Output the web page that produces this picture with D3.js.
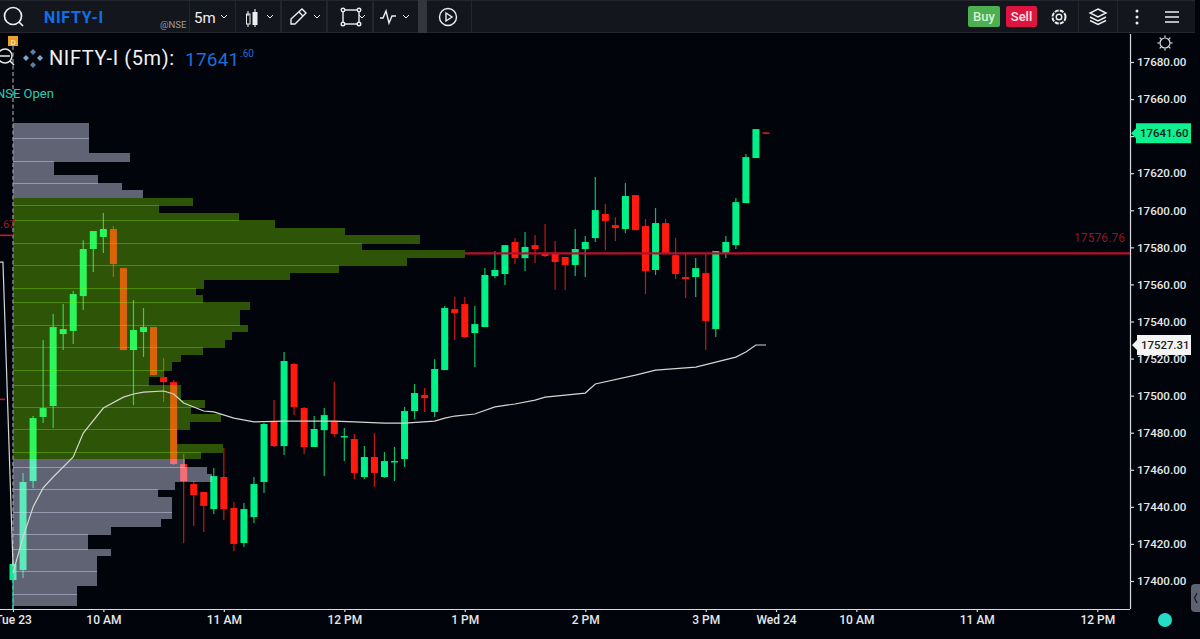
<!DOCTYPE html>
<html>
<head>
<meta charset="utf-8">
<title>NIFTY-I 5m</title>
<script src="https://cdn.jsdelivr.net/npm/d3@7"></script>
<style>
  html, body { margin: 0; padding: 0; background: #02040b; overflow: hidden; }
  text { font-family: Roboto, "Noto Sans", sans-serif; }
</style>
</head>
<body>
<svg id="chart" width="1200" height="639"></svg>
<script>
/****************************************************************
    Data
/****************************************************************/
const opens = [
  17400.5, 17405.9, 17453.9, 17488.5, 17494.4, 17533.2, 17534.9, 17553.7, 17579.1, 17585.6,
  17589.9, 17568.8, 17524.6, 17534.3, 17537.0, 17510.0, 17507.3, 17463.1, 17452.3, 17448.0,
  17438.8, 17456.1, 17439.4, 17420.5, 17434.5, 17453.4, 17485.8, 17472.8, 17517.1, 17493.3,
  17472.3, 17481.4, 17486.3, 17477.7, 17476.6, 17456.1, 17466.9, 17456.1, 17464.2, 17465.8,
  17491.7, 17500.3, 17491.2, 17513.8, 17546.7, 17549.4, 17533.8, 17537.0, 17564.5, 17565.6,
  17582.9, 17574.2, 17581.2, 17576.4, 17576.9, 17574.8, 17570.5, 17579.1, 17585.0, 17598.0,
  17592.0, 17589.9, 17608.2, 17591.5, 17567.8, 17593.1, 17575.8, 17564.0, 17564.0, 17566.1,
  17535.9, 17576.9, 17581.2, 17603.9, 17628.2, 17642.0
]
const highs = [
  17410.2, 17458.3, 17489.0, 17530.0, 17544.0, 17549.4, 17556.4, 17583.9, 17588.8, 17598.5,
  17591.5, 17568.8, 17551.6, 17547.3, 17537.0, 17520.3, 17508.4, 17468.5, 17453.9, 17448.0,
  17461.0, 17471.7, 17442.6, 17442.1, 17456.1, 17485.2, 17497.6, 17523.5, 17517.6, 17493.9,
  17489.0, 17493.3, 17507.3, 17482.5, 17479.3, 17472.8, 17479.8, 17469.6, 17472.3, 17493.9,
  17506.3, 17504.1, 17519.7, 17548.3, 17553.2, 17553.2, 17548.3, 17568.8, 17578.0, 17581.2,
  17585.0, 17588.3, 17586.6, 17592.6, 17583.4, 17574.8, 17589.9, 17586.1, 17617.9, 17603.4,
  17596.3, 17614.7, 17608.2, 17595.3, 17601.2, 17595.3, 17585.0, 17576.4, 17574.2, 17576.4,
  17578.0, 17586.1, 17606.6, 17630.3, 17643.8, 17642.0
]
const lows = [
  17400.0, 17401.6, 17450.2, 17485.2, 17482.5, 17524.6, 17527.8, 17546.2, 17566.7, 17576.9,
  17564.0, 17524.6, 17494.9, 17520.8, 17511.1, 17496.6, 17462.6, 17420.5, 17429.7, 17426.4,
  17436.1, 17432.9, 17416.2, 17418.3, 17431.3, 17447.5, 17472.3, 17468.0, 17489.5, 17468.5,
  17472.3, 17456.6, 17477.7, 17464.7, 17455.0, 17455.0, 17450.7, 17455.6, 17453.9, 17461.5,
  17487.4, 17491.2, 17488.5, 17513.8, 17530.0, 17531.1, 17515.4, 17537.0, 17563.4, 17559.7,
  17571.0, 17567.2, 17571.5, 17574.8, 17557.0, 17557.0, 17564.5, 17564.0, 17582.9, 17578.5,
  17583.4, 17587.7, 17589.3, 17554.8, 17565.1, 17576.4, 17562.9, 17552.7, 17553.2, 17524.6,
  17531.6, 17574.2, 17579.1, 17603.9, 17628.2, 17641.6
]
const closes = [
  17409.2, 17453.4, 17487.9, 17493.3, 17537.0, 17535.9, 17554.8, 17579.1, 17588.8, 17589.9,
  17571.0, 17524.6, 17535.4, 17537.0, 17511.1, 17507.3, 17463.1, 17453.9, 17446.4, 17440.5,
  17456.6, 17438.8, 17420.0, 17438.8, 17452.3, 17484.7, 17472.8, 17518.7, 17493.9, 17472.3,
  17482.0, 17489.5, 17479.3, 17478.2, 17458.3, 17466.9, 17458.3, 17464.7, 17464.7, 17491.7,
  17501.4, 17498.7, 17514.4, 17547.3, 17544.6, 17531.6, 17538.6, 17565.1, 17567.8, 17581.2,
  17574.2, 17580.2, 17579.1, 17575.3, 17572.1, 17570.5, 17579.1, 17582.9, 17600.1, 17594.2,
  17590.4, 17607.7, 17589.3, 17567.2, 17593.1, 17576.4, 17565.6, 17562.9, 17568.8, 17540.2,
  17578.0, 17582.9, 17604.4, 17628.7, 17643.8, 17641.6
]

// session vwap, bar index and price
const vwapBars = [0, 1, 2, 3, 4, 6, 7, 9, 11, 12, 13, 15, 16, 17, 19, 20, 22, 24, 27, 32, 34, 37, 39, 42, 43, 44, 46, 48, 50, 52, 53, 57, 58, 62, 64, 68, 72, 73, 74, 75]
const vwapPrices = [
  17404.3, 17423.7, 17439.9, 17450.2, 17456.1, 17466.9, 17479.8, 17493.3, 17499.2, 17500.9,
  17501.9, 17502.5, 17500.9, 17496.0, 17491.7, 17491.2, 17487.9, 17485.8, 17486.3, 17486.3,
  17485.8, 17485.2, 17485.2, 17486.3, 17487.9, 17489.0, 17490.1, 17493.9, 17495.5, 17497.6,
  17499.2, 17501.4, 17506.3, 17511.1, 17513.8, 17515.4, 17520.8, 17523.5, 17527.31, 17527.31
]
// tail of the previous session's vwap
const prevVwapBars = [-1.4, -1, 0]
const prevVwapPrices = [17572, 17572, 17408]

// volume profile rows, top row first
const profileVolumes = [
  76, 76, 76, 76, 117, 41, 41, 85, 109, 130,
  180, 146, 226, 262, 332, 407, 349, 452, 394, 326,
  277, 191, 183, 190, 237, 227, 227, 235, 219, 212,
  190, 168, 159, 150, 136, 168, 168, 192, 178, 208,
  177, 164, 164, 210, 188, 172, 194, 199, 162, 145,
  159, 159, 159, 148, 98, 75, 75, 98, 84, 84,
  84, 84, 64, 64, 64
]
const profileTopPrice = 17647
const profileRowPrice = 4.03
const valueAreaFirst = 10
const valueAreaLast = 44

const priceTicks = [17400, 17420, 17440, 17460, 17480, 17500, 17520, 17540, 17560, 17580, 17600, 17620, 17640, 17660, 17680]
const timeTickBars = [0, 9, 21, 33, 45, 57, 69, 76, 84, 96, 108]
const timeTickLabels = ['Tue 23', '10 AM', '11 AM', '12 PM', '1 PM', '2 PM', '3 PM', 'Wed 24', '10 AM', '11 AM', '12 PM']

const levelPrice = 17576.76
const prevLevels = [17586.5, 17498]
const lastPrice = 17641.60
const lastVwap = 17527.31

/****************************************************************
    Constant settings
/****************************************************************/
const settings = {
  bg: '#02040b',
  toolbar: '#14161d',
  up: '#00f088',
  down: '#ff1a0d',
  axisColor: '#d8dade',
  textColor: '#e6e8ea',
  bodyWidth: 7,
  plotRight: 1130,
  plotBottom: 609,
  toolbarHeight: 33
}

const svg = d3.select('#chart')
const x = d3.scaleLinear().domain([0, 111]).range([13, 1127.4])
const y = d3.scaleLinear().domain([17400, 17680]).range([581, 62])
const volumeX = d3.scaleLinear().domain([0, 452]).range([13, 465])

svg.append('rect').attr('width', 1200).attr('height', 639).attr('fill', settings.bg)

/****************************************************************
    Candles. The profile goes on top of them and tints them
/****************************************************************/
const bars = d3.range(opens.length)
const barColor = i => (closes[i] >= opens[i] ? settings.up : settings.down)
const candles = svg.append('g').selectAll('g').data(bars).join('g')

candles.append('line')
  .attr('x1', i => x(i)).attr('x2', i => x(i))
  .attr('y1', i => y(highs[i])).attr('y2', i => y(lows[i]))
  .attr('stroke', barColor)
  .attr('stroke-width', 1.2)
  .attr('stroke-opacity', 0.8)

candles.append('rect')
  .attr('x', i => x(i) - settings.bodyWidth / 2)
  .attr('width', settings.bodyWidth)
  .attr('y', i => y(Math.max(opens[i], closes[i])))
  .attr('height', i => Math.max(1.4, Math.abs(y(opens[i]) - y(closes[i]))))
  .attr('fill', barColor)

/****************************************************************
    Volume profile
/****************************************************************/
const rowTop = k => Math.round(y(profileTopPrice - k * profileRowPrice))
const inValueArea = k => k >= valueAreaFirst && k <= valueAreaLast
// the picture shows a lighter seam every 3,3,3,2 rows
const hasSeam = k => [0, 3, 6, 9].includes(((k - 2) % 11 + 11) % 11)

svg.append('g').attr('shape-rendering', 'crispEdges')
  .selectAll('rect').data(profileVolumes).join('rect')
  .attr('x', volumeX(0))
  .attr('width', v => volumeX(v) - volumeX(0))
  .attr('y', (v, k) => rowTop(k))
  .attr('height', (v, k) => Math.min(rowTop(k + 1), y(17386.5)) - rowTop(k) + (hasSeam(k + 1) ? 1 : 0))
  .attr('fill', (v, k) => (inValueArea(k) ? 'rgb(140,255,0)' : 'rgb(218,225,255)'))
  .attr('fill-opacity', (v, k) => (inValueArea(k) ? 0.32 : 0.43))

/****************************************************************
    Session open marker and left edge pieces
/****************************************************************/
svg.append('line')
  .attr('x1', x(0)).attr('x2', x(0)).attr('y1', 46).attr('y2', settings.plotBottom)
  .attr('stroke', '#9a9da6').attr('stroke-width', 1.2).attr('stroke-dasharray', '4 2.5')

svg.append('line')
  .attr('x1', x(0)).attr('x2', x(0)).attr('y1', 562).attr('y2', settings.plotBottom)
  .attr('stroke', '#22d8a8').attr('stroke-width', 1.2)

svg.append('g').selectAll('line').data(prevLevels).join('line')
  .attr('x1', 0).attr('x2', (d, i) => (i === 0 ? x(0) : 5))
  .attr('y1', d => y(d)).attr('y2', d => y(d))
  .attr('stroke', '#c0182c').attr('stroke-width', 1.6)

svg.append('text').attr('x', 0).attr('y', 228)
  .attr('font-size', 11).attr('fill', '#9c1c20').attr('font-family', 'DejaVu Sans Mono')
  .text('.67')

/****************************************************************
    Vwap lines
/****************************************************************/
const priceLine = d3.line().x(d => x(d[0])).y(d => y(d[1]))
svg.append('path')
  .attr('d', priceLine(d3.zip(vwapBars, vwapPrices)))
  .attr('fill', 'none').attr('stroke', '#d4d6d2').attr('stroke-width', 1.2)
svg.append('path')
  .attr('d', priceLine(d3.zip(prevVwapBars, prevVwapPrices)))
  .attr('fill', 'none').attr('stroke', '#d4d6d2').attr('stroke-width', 1.2)

/****************************************************************
    Horizontal level
/****************************************************************/
svg.append('line')
  .attr('x1', volumeX(452)).attr('x2', settings.plotRight)
  .attr('y1', y(levelPrice)).attr('y2', y(levelPrice))
  .attr('stroke', '#b8102c').attr('stroke-width', 2.2)

svg.append('text')
  .attr('x', 1125).attr('y', y(levelPrice) - 11)
  .attr('text-anchor', 'end').attr('font-size', 12)
  .attr('font-family', 'DejaVu Sans Mono').attr('fill', '#8e1422')
  .attr('textLength', 51)
  .text(levelPrice.toFixed(2))

/****************************************************************
    Axes
/****************************************************************/
const priceAxis = svg.append('g')
  .attr('transform', `translate(${settings.plotRight},0)`)
  .call(d3.axisRight(y).tickValues(priceTicks).tickSize(4).tickPadding(3).tickFormat(d3.format('.2f')))
priceAxis.select('.domain').attr('d', `M0.5,34V${settings.plotBottom}`)

const timeAxis = svg.append('g')
  .attr('transform', `translate(0,${settings.plotBottom})`)
  .call(d3.axisBottom(x).tickValues(timeTickBars).tickSize(3).tickPadding(3)
    .tickFormat((d, i) => timeTickLabels[i]))
timeAxis.select('.domain').attr('d', `M0,0.5H${settings.plotRight}`)

svg.selectAll('.tick text')
  .attr('fill', settings.textColor).attr('font-size', 12).attr('font-weight', 500)
  .attr('font-family', 'Roboto, sans-serif')
priceAxis.selectAll('.tick text').attr('font-size', 11.6)
svg.selectAll('.tick line, .domain').attr('stroke', settings.axisColor).attr('stroke-width', 1.2)

/****************************************************************
    Price tags on the axis
/****************************************************************/
function priceTag(value, left, right, halfHeight, fill, textFill, textX) {
  const cy = y(value)
  svg.append('path')
    .attr('d', `M${left - 5},${cy} L${left},${cy - 5} L${left},${cy - halfHeight} H${right} V${cy + halfHeight} H${left} L${left},${cy + 5} Z`)
    .attr('fill', fill)
  svg.append('text').attr('x', textX).attr('y', cy + 4)
    .attr('font-size', 11.4).attr('font-weight', 500).attr('fill', textFill)
    .text(value.toFixed(2))
}
priceTag(lastPrice, 1136, 1191, 10, '#0ff090', '#06231a', 1140)
priceTag(lastVwap, 1137, 1191, 10, '#f4f4f4', '#1a1c20', 1141)

/****************************************************************
    Legend over the chart
/****************************************************************/
svg.append('text').attr('x', 49).attr('y', 65).attr('font-size', 20).attr('letter-spacing', 0.6).attr('fill', '#f0f1f2').text('NIFTY-I (5m):')
svg.append('text').attr('x', 185).attr('y', 66).attr('font-size', 19).attr('letter-spacing', 0.2).attr('fill', '#1a6fd8').text('17641')
svg.append('text').attr('x', 240).attr('y', 57).attr('font-size', 10).attr('fill', '#1a6fd8').text('.60')
svg.append('text').attr('x', -4).attr('y', 98).attr('font-size', 13).attr('fill', '#24d0b4').text('NSE Open')

// move cursor glyph next to the legend
const moveDots = [[33, 52], [40, 58], [33, 65], [26, 58]]
svg.append('g').selectAll('path').data(moveDots).join('path')
  .attr('d', d => `M${d[0]},${d[1] - 3} L${d[0] + 3},${d[1]} L${d[0]},${d[1] + 3} L${d[0] - 3},${d[1]} Z`)
  .attr('fill', (d, i) => (i % 2 ? '#7fa6c8' : '#5a7ea4'))

// zoom glass cut by the left edge
svg.append('circle').attr('cx', 5).attr('cy', 56).attr('r', 7)
  .attr('fill', 'none').attr('stroke', '#e8e8e8').attr('stroke-width', 1.5)
svg.append('path').attr('d', 'M-1,56 H10 M10,61 L14,65').attr('stroke', '#e8e8e8').attr('stroke-width', 1.5)

svg.append('rect').attr('x', 8).attr('y', 36).attr('width', 10).attr('height', 10).attr('fill', '#e8a030')
svg.append('text').attr('x', 13).attr('y', 44.5).attr('text-anchor', 'middle')
  .attr('font-size', 8).attr('fill', '#fff2c8').text('D')

// sun icon, bottom dot and collapse handle
const sun = svg.append('g').attr('transform', 'translate(1165,43)')
  .attr('fill', 'none').attr('stroke', '#e0e2e4').attr('stroke-width', 1.2)
sun.append('circle').attr('r', 5)
sun.selectAll('line').data(d3.range(8)).join('line')
  .attr('transform', d => `rotate(${d * 45})`)
  .attr('y1', -5.5).attr('y2', -7.5)

svg.append('circle').attr('cx', 1165).attr('cy', 620).attr('r', 7).attr('fill', '#24dcc8')
svg.append('rect').attr('x', 1191).attr('y', 584).attr('width', 14).attr('height', 28).attr('rx', 4).attr('fill', '#5c6270')
svg.append('path').attr('d', 'M1197,593 L1194.5,598 L1197,603').attr('fill', 'none').attr('stroke', '#16181e').attr('stroke-width', 1.2)

/****************************************************************
    Toolbar
/****************************************************************/
const toolbar = svg.append('g')
toolbar.append('rect').attr('width', 1200).attr('height', settings.toolbarHeight).attr('fill', '#23262c')
toolbar.append('rect').attr('x', 418).attr('width', 9).attr('height', settings.toolbarHeight).attr('fill', '#33363d')

const toolbarCells = [[0, 189], [190, 235], [236, 280], [282, 326], [328, 372], [374, 418], [427, 471], [472, 1078], [1079, 1117], [1118, 1195]]
toolbar.selectAll('.cell').data(toolbarCells).join('rect')
  .attr('class', 'cell')
  .attr('x', d => d[0]).attr('y', 1).attr('width', d => d[1] - d[0]).attr('height', 31)
  .attr('fill', settings.toolbar)
toolbar.append('rect').attr('x', 1195).attr('y', 0).attr('width', 5).attr('height', settings.toolbarHeight).attr('fill', settings.bg)

const icon = toolbar.append('g').attr('fill', 'none').attr('stroke', '#eceef0').attr('stroke-width', 1.4)
icon.append('circle').attr('cx', 13).attr('cy', 16).attr('r', 8.5).attr('stroke-width', 1.7)
icon.append('path').attr('d', 'M19,22 L23,26').attr('stroke-width', 1.7)
// candle icon
icon.append('path').attr('d', 'M248,11 V16 M248,24 V27 M255,9 V27').attr('stroke-width', 1.1)
icon.append('rect').attr('x', 246.5).attr('y', 14).attr('width', 3.5).attr('height', 10).attr('stroke-width', 1)
icon.append('rect').attr('x', 252.5).attr('y', 12).attr('width', 5).attr('height', 13).attr('fill', '#eceef0').attr('stroke', 'none')
// pencil icon
icon.append('path').attr('d', 'M291,24 L291,19 L302,9 L306,13 L295,24 Z M299,12 L303,16')
// rectangle tool
icon.append('rect').attr('x', 343).attr('y', 10).attr('width', 16).attr('height', 14)
icon.selectAll('.corner').data([[343, 10], [359, 10], [343, 24], [359, 24]]).join('circle')
  .attr('class', 'corner').attr('cx', d => d[0]).attr('cy', d => d[1]).attr('r', 1.8).attr('fill', settings.toolbar)
// indicator icon
icon.append('path').attr('d', 'M380,18 H383 L386,11 L389,23 L392,16 H396')
// replay icon
icon.append('circle').attr('cx', 448).attr('cy', 17).attr('r', 8.5)
icon.append('path').attr('d', 'M446,13 L452,17 L446,21 Z')
// right side icons
icon.append('circle').attr('cx', 1059).attr('cy', 17).attr('r', 2.8)
icon.append('circle').attr('cx', 1059).attr('cy', 17).attr('r', 6.5).attr('stroke-dasharray', '4 1.1').attr('stroke-width', 2)
icon.append('path').attr('d', 'M1098,9 L1106,13 L1098,17 L1090,13 Z M1090,17 L1098,21 L1106,17 M1090,20.5 L1098,24.5 L1106,20.5')
icon.append('path').attr('d', 'M1165,12 H1179 M1165,17 H1179 M1165,22 H1179').attr('stroke-width', 1.6)
toolbar.selectAll('.dot').data([11, 17, 23]).join('circle')
  .attr('class', 'dot').attr('cx', 1137).attr('cy', d => d).attr('r', 1.5).attr('fill', '#eceef0')

// little dropdown chevrons
const chevrons = [224, 270, 317, 362, 406]
icon.selectAll('.chev').data(chevrons).join('path')
  .attr('class', 'chev').attr('stroke-width', 1)
  .attr('d', d => `M${d - 3},15 L${d},18 L${d + 3},15`)

toolbar.append('text').attr('x', 44).attr('y', 23).attr('font-size', 16).attr('font-weight', 700)
  .attr('font-family', 'Inter, Roboto, sans-serif').attr('letter-spacing', 0.7).attr('fill', '#0f6fe8').text('NIFTY-I')
toolbar.append('text').attr('x', 160).attr('y', 28).attr('font-size', 9.5).attr('fill', '#9a9ca2').text('@NSE')
toolbar.append('text').attr('x', 194).attr('y', 23).attr('font-size', 15).attr('fill', '#f0f1f2').text('5m')

toolbar.append('rect').attr('x', 968).attr('y', 6).attr('width', 32).attr('height', 21).attr('rx', 2).attr('fill', '#4caf50')
toolbar.append('rect').attr('x', 1006).attr('y', 6).attr('width', 31).attr('height', 21).attr('rx', 2).attr('fill', '#dc1440')
toolbar.append('text').attr('x', 984).attr('y', 21).attr('text-anchor', 'middle').attr('font-size', 13).attr('font-weight', 500).attr('fill', '#d6f0d6').text('Buy')
toolbar.append('text').attr('x', 1021.5).attr('y', 21).attr('text-anchor', 'middle').attr('font-size', 13).attr('font-weight', 500).attr('fill', '#fbe4e8').text('Sell')
</script>
</body>
</html>
